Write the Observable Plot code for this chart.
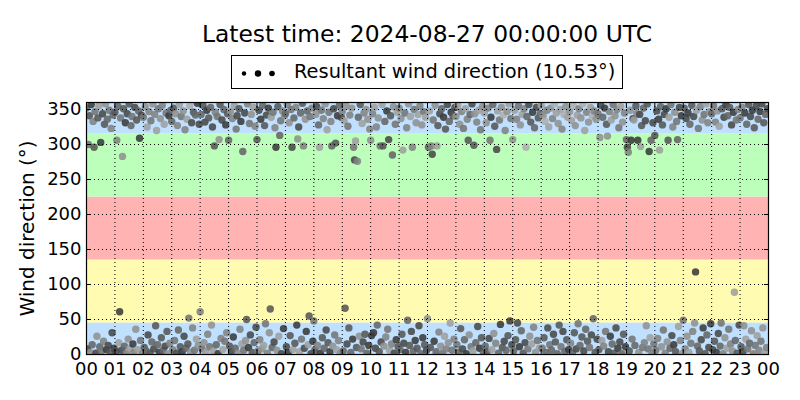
<!DOCTYPE html>
<html><head><meta charset="utf-8">
<script src="https://cdn.jsdelivr.net/npm/d3@7"></script>
<script src="https://cdn.jsdelivr.net/npm/@observablehq/plot@0.6"></script>
<style>
body{margin:0;background:#fff;font-family:"DejaVu Sans",sans-serif;color:#000;}
#wrap{position:relative;width:800px;height:400px;overflow:hidden;}
#title{position:absolute;left:0;width:854px;top:21px;text-align:center;font-size:23.4px;line-height:26px;white-space:nowrap;}
#legend{position:absolute;left:231px;top:55px;width:390px;height:32px;border:1px solid #000;background:#fff;}
#legend svg{position:absolute;left:0;top:0;}
#legend .lt{position:absolute;left:62px;top:6px;font-size:19.4px;line-height:19px;white-space:nowrap;}
#chart{position:absolute;left:0;top:95px;}
</style></head>
<body><div id="wrap">
<div id="title">Latest time: 2024-08-27 00:00:00 UTC</div>
<div id="legend"><svg width="60" height="32"><circle cx="12" cy="17.5" r="2.2" fill="#000"/><circle cx="26" cy="17.5" r="3.2" fill="#000"/><circle cx="40" cy="17.5" r="2.8" fill="#000"/></svg><span class="lt">Resultant wind direction (10.53°)</span></div>
<div id="chart"></div>
</div>
<script>
// hour-of-day tick labels and direction ticks
const hourTicks = [0,1,2,3,4,5,6,7,8,9,10,11,12,13,14,15,16,17,18,19,20,21,22,23,24];
const dirTicks = [0,50,100,150,200,250,300,350];

// direction sectors (degrees) shown as background bands
const bandFrom = [0, 45, 135, 225, 315];
const bandTo = [45, 135, 225, 315, 360];
const bandColor = ["#bfe0ff", "#fffbb0", "#ffb3b3", "#bbffbb", "#bfe0ff"];

// wind direction (deg), 2-minute samples, one row per hour 00..23
const dir00 = [352,8,300,341,3,357,14,333,296,347,2,26,338,355,11,303,5,344,19,329,358,7,336,13,349,1,323,31,342,9];
const dir01 = [346,4,306,355,17,61,338,6,283,351,12,331,2,344,22,358,9,327,340,15,3,353,36,335,7,348,309,20,342,1];
const dir02 = [339,10,354,5,325,28,347,2,334,18,358,8,343,41,320,14,351,3,337,24,356,6,329,12,345,33,1,341,16,349];
const dir03 = [333,7,352,20,344,2,327,35,357,11,340,4,348,26,321,9,336,15,52,355,3,331,38,346,6,342,22,359,13,329];
const dir04 = [61,343,8,356,17,332,3,349,29,338,11,353,42,325,5,298,346,14,340,1,307,357,23,335,7,350,19,328,31,344];
const dir05 = [306,12,347,4,337,25,355,9,322,341,2,351,36,333,15,290,6,345,20,50,358,10,330,28,343,3,353,17,326,39];
const dir06 = [307,5,349,21,336,8,356,13,327,44,342,2,352,31,65,339,10,346,18,324,296,6,354,26,313,334,1,348,37,341];
const dir07 = [344,11,357,3,331,27,350,296,7,338,16,353,42,308,325,4,345,22,359,298,9,336,33,348,14,55,340,1,352,19];
const dir08 = [48,6,343,354,13,328,296,2,349,24,337,9,358,35,321,17,346,4,333,298,12,351,28,302,7,341,20,356,1,339];
const dir09 = [347,5,334,66,355,15,326,38,342,3,352,22,296,278,305,10,276,339,26,357,8,330,18,345,29,350,2,336,13,322];
const dir10 = [306,27,344,31,353,9,325,42,338,4,298,18,357,298,12,333,25,348,36,307,6,341,15,285,354,2,329,21,346,11];
const dir11 = [352,7,337,29,292,16,345,3,324,49,358,13,340,33,296,5,350,20,331,9,343,41,355,1,328,24,347,14,339,6];
const dir12 = [51,296,348,10,298,286,335,19,356,4,298,327,32,344,12,351,2,339,26,322,8,357,17,333,45,346,6,341,22,353];
const dir13 = [340,14,356,3,329,37,347,8,323,21,351,1,336,306,28,343,11,358,5,299,344,17,332,40,349,9,321,24,354,2];
const dir14 = [345,12,331,4,352,23,306,339,7,357,30,326,16,293,348,2,335,43,353,10,342,19,320,6,347,27,358,48,337,14];
const dir15 = [307,5,349,21,336,45,355,11,328,34,343,2,351,17,296,340,8,357,26,332,15,346,39,324,3,353,20,338,9,344];
const dir16 = [356,9,341,24,333,3,349,38,325,14,352,6,337,29,358,18,345,1,330,42,350,11,322,33,343,4,354,21,339,7];
const dir17 = [347,16,334,2,355,31,327,8,342,44,351,13,338,25,358,5,320,36,346,19,332,10,353,28,341,51,348,3,336,22];
const dir18 = [344,7,310,356,20,339,12,352,33,329,312,4,347,26,335,15,357,2,341,38,350,9,324,18,354,1,332,29,345,11];
const dir19 = [307,296,289,5,349,306,22,337,335,13,355,344,306,3,343,297,327,10,352,17,334,41,358,8,290,24,306,2,331,15];
const dir20 = [313,6,348,23,336,292,354,11,328,35,343,2,351,18,306,339,9,357,27,325,14,346,4,333,307,40,353,20,341,1];
const dir21 = [49,352,8,337,26,345,3,329,16,356,33,340,45,118,349,12,323,5,354,21,335,38,343,1,358,28,331,10,347,44];
const dir22 = [344,7,355,19,332,3,348,30,326,12,45,351,1,339,24,357,9,341,36,353,15,328,5,346,89,20,335,2,350,42];
const dir23 = [338,11,353,4,41,345,22,329,8,357,16,340,34,349,1,324,13,355,27,336,6,347,19,358,38,331,3,343,10,351];

// wind speed class (0..9) of each sample, same order as above
const spd00 = "6857396475 8372695847 3968574869";
const spd01 = "7846295837 6948372659 4837269584";
const spd02 = "5736284756 3847265937 4628573946";
const spd03 = "6475384627 5938462751 3847562938";
const spd04 = "4657382947 5638274659 3748265947";
const spd05 = "6738492658 3749265837 4958372648";
const spd06 = "7584936275 8493726584 9372658493";
const spd07 = "6849375826 7493826574 8396275849";
const spd08 = "5738462957 4638275946 3857294638";
const spd09 = "4627385746 3958274637 5284736394";
const spd10 = "3949284637 5827364958 2746385927";
const spd11 = "4637285946 3728465937 2846395728";
const spd12 = "3627485936 2748365927 4836295748";
const spd13 = "3526374856 2947365827 3648295736";
const spd14 = "2637485926 3748265937 1846372958";
const spd15 = "3627485936 2748165837 2946385726";
const spd16 = "2537164825 3648172637 2548163729";
const spd17 = "3426173825 4637182647 3528164738";
const spd18 = "5738264957 3849265738 4958263749";
const spd19 = "6847395826 7493827564 8375926485";
const spd20 = "7584926375 8493726584 9375628493";
const spd21 = "5748392657 4839265748 3957264839";
const spd22 = "6857493826 5748392657 4839265748";
const spd23 = "5748392657 6839475826 4958372648";

const dirRows = [dir00,dir01,dir02,dir03,dir04,dir05,dir06,dir07,dir08,dir09,dir10,dir11,dir12,dir13,dir14,dir15,dir16,dir17,dir18,dir19,dir20,dir21,dir22,dir23];
const spdRows = [spd00,spd01,spd02,spd03,spd04,spd05,spd06,spd07,spd08,spd09,spd10,spd11,spd12,spd13,spd14,spd15,spd16,spd17,spd18,spd19,spd20,spd21,spd22,spd23];

const obs = [];
dirRows.forEach((row, h) => {
  const s = spdRows[h].replace(/\s/g, "");
  row.forEach((d, k) => obs.push({t: h + k / row.length, dir: d, spd: +(s[k] ?? 5)}));
});
const bands = bandFrom.map((lo, i) => ({lo, hi: bandTo[i], color: bandColor[i]}));

const fmtHour = h => String(h % 24).padStart(2, "0");
const grid = {stroke: "#000", strokeOpacity: 1, strokeWidth: 1, strokeDasharray: "1,3"};

const chart = Plot.plot({
  width: 800, height: 305,
  marginLeft: 86, marginRight: 32, marginTop: 7, marginBottom: 46,
  style: {fontFamily: "DejaVu Sans, sans-serif", fontSize: "18px", color: "#000", background: "transparent", overflow: "visible"},
  x: {domain: [0, 24]},
  y: {domain: [0, 360]},
  color: {type: "linear", domain: [0, 9], range: ["#bcbcbc", "#3a3a3a"]},
  marks: [
    ...bands.map(b => Plot.rect([b], {y1: "lo", y2: "hi", fill: b.color})),
    Plot.dot(obs, {x: "t", y: "dir", r: 3.7, fill: "spd", fillOpacity: 0.88, clip: true}),
    Plot.gridX(hourTicks, grid),
    Plot.gridY(dirTicks, grid),
    Plot.frame({stroke: "#000", strokeWidth: 1.2}),
    Plot.axisX(hourTicks, {anchor: "bottom", tickSize: -5, tickPadding: 13, tickFormat: fmtHour, label: null}),
    Plot.axisX(hourTicks, {anchor: "top", tickSize: -5, tickFormat: () => "", label: null}),
    Plot.axisY(dirTicks, {anchor: "left", tickSize: -5, tickPadding: 10, label: null}),
    Plot.axisY([], {anchor: "left", tickSize: 0, fontSize: 20, label: "Wind direction (°)", labelAnchor: "center", labelOffset: 67, labelArrow: "none"}),
    Plot.axisY(dirTicks, {anchor: "right", tickSize: -5, tickFormat: () => "", label: null})
  ]
});
document.getElementById("chart").appendChild(chart);
</script>
</body></html>
